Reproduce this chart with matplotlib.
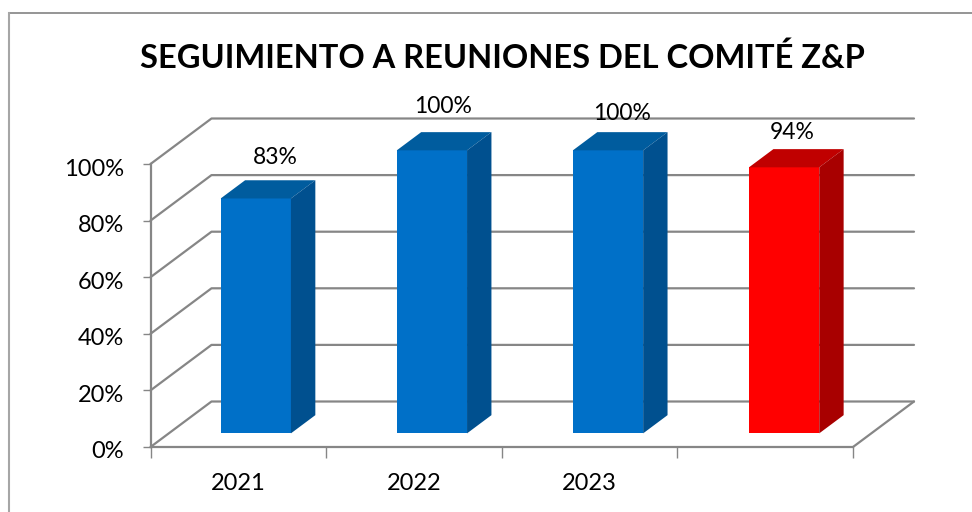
"""plot.py - 3D style column chart, reuniones del comite Z&P"""
import matplotlib
matplotlib.use('Agg')
import matplotlib.pyplot as plt
from matplotlib.lines import Line2D
from matplotlib.patches import Polygon
from matplotlib.transforms import ScaledTranslation

W, H = 972, 512

# data
years = ['2021', '2022', '2023', '']
values = [0.83, 1.00, 1.00, 0.94]
y_ticks = [0, 0.2, 0.4, 0.6, 0.8, 1.0]
y_labels = ['0%', '20%', '40%', '60%', '80%', '100%']
title = 'SEGUIMIENTO A REUNIONES DEL COMITÉ Z&P'

# colours per bar: front, top, side
front_cols = ['#0070C8', '#0070C8', '#0070C8', '#FF0000']
top_cols = ['#005C9E', '#005C9E', '#005C9E', '#C00000']
side_cols = ['#00508F', '#00508F', '#00508F', '#A80000']

# label nudges in pixels, the original has them hand placed
label_dx = [19, 11, 14, 8]
label_dy = [23, 26, 19, 17]

GRID = '#868686'
plt.rcParams['font.family'] = ['Lato', 'DejaVu Sans']

# plot box in pixels
X0, X1 = 150.5, 853
Y0, Y1 = 447, 164
DX, DY = 61, 45.5     # wall depth, pixels

fig = plt.figure(figsize=(W / 100, H / 100), dpi=100)
fig.patch.set_facecolor('white')
ax = fig.add_axes([X0 / W, 1 - Y0 / H, (X1 - X0) / W, (Y0 - Y1) / H])
ax.set_xlim(0, 4)
ax.set_ylim(0, 1)
ax.patch.set_alpha(0)

px_x = 4 / (X1 - X0)
px_y = 1 / (Y0 - Y1)


def depth(x, y, d):
    """Front plane point (x, y) pushed back by d (0 = front, 1 = back wall)."""
    return x + d * DX * px_x, y + d * DY * px_y


def grey_line(xs, ys):
    ax.plot(xs, ys, color=GRID, lw=1.6, clip_on=False, zorder=1,
            solid_capstyle='round', solid_joinstyle='round')


# walls and floor
for t in y_ticks:
    bx, by = depth(0, t, 1)
    ex, ey = depth(4, t, 1)
    grey_line([0, bx, ex], [t, by, ey])
fx, fy = depth(4, 0, 1)
grey_line([4, fx], [0, fy])

# bars
bar_w = 0.4      # share of a category
bar_step = 176.1 * px_x
d_front, d_back = 0.3, 0.7
for i, v in enumerate(values):
    x_l = 0.5 - bar_w / 2 - 0.8 * px_x + i * bar_step
    x_r = x_l + bar_w
    lx, by = depth(x_l, 0, d_front)
    rx, _ = depth(x_r, 0, d_front)
    tops = by + v

    ax.bar(lx, v, width=rx - lx, bottom=by, align='edge', color=front_cols[i],
           lw=0, zorder=3, clip_on=False)
    top = [(lx, tops), (rx, tops),
           (rx + (d_back - d_front) * DX * px_x, tops + (d_back - d_front) * DY * px_y),
           (lx + (d_back - d_front) * DX * px_x, tops + (d_back - d_front) * DY * px_y)]
    ax.add_patch(Polygon(top, closed=True, fc=top_cols[i], lw=0, zorder=3, clip_on=False))
    side = [(rx, by), (rx, tops), top[2],
            (top[2][0], by + (d_back - d_front) * DY * px_y)]
    ax.add_patch(Polygon(side, closed=True, fc=side_cols[i], lw=0, zorder=3, clip_on=False))

    # value label
    ax.annotate(f'{v:.0%}', xy=((lx + rx) / 2, tops + (d_back - d_front) * DY * px_y),
                xytext=(label_dx[i] * 0.72, label_dy[i] * 0.72), textcoords='offset points',
                ha='center', va='center', fontsize=16.5, color='black', zorder=5,
                annotation_clip=False)

# axes, ticks
for s in ['top', 'right']:
    ax.spines[s].set_visible(False)
for s in ['left', 'bottom']:
    ax.spines[s].set_color(GRID)
    ax.spines[s].set_linewidth(1.6)
ax.set_yticks(y_ticks)
ax.set_yticklabels(y_labels, fontsize=17)
ax.set_xticks(range(5))
ax.set_xticklabels([''] * 5)
ax.set_xticks([i + 0.5 for i in range(4)], minor=True)
ax.set_xticklabels(years, minor=True, fontsize=17)
ax.tick_params(axis='y', length=6, width=1, color=GRID, pad=13)
ax.tick_params(axis='x', which='major', length=8, width=1, color=GRID)
ax.tick_params(axis='x', which='minor', length=0, pad=19)

# y labels sit a little below their ticks in the original
shift = ScaledTranslation(0, -3 / 100, fig.dpi_scale_trans)
for lab in ax.get_yticklabels():
    lab.set_transform(lab.get_transform() + shift)

fig.text(502 / W, 1 - 58 / H, title, ha='center', va='center', fontsize=23.5,
         fontweight='bold', color='black')

# outer frame, only top and left are inside the crop
fig.add_artist(Line2D([9 / W, 1], [1 - 12.5 / H, 1 - 12.5 / H], transform=fig.transFigure,
                      color='#8C8C8C', lw=1.3))
fig.add_artist(Line2D([9 / W, 9 / W], [1 - 12.5 / H, 0], transform=fig.transFigure,
                      color='#A6A6A6', lw=1.5))

fig.savefig('out.png', dpi=100)
